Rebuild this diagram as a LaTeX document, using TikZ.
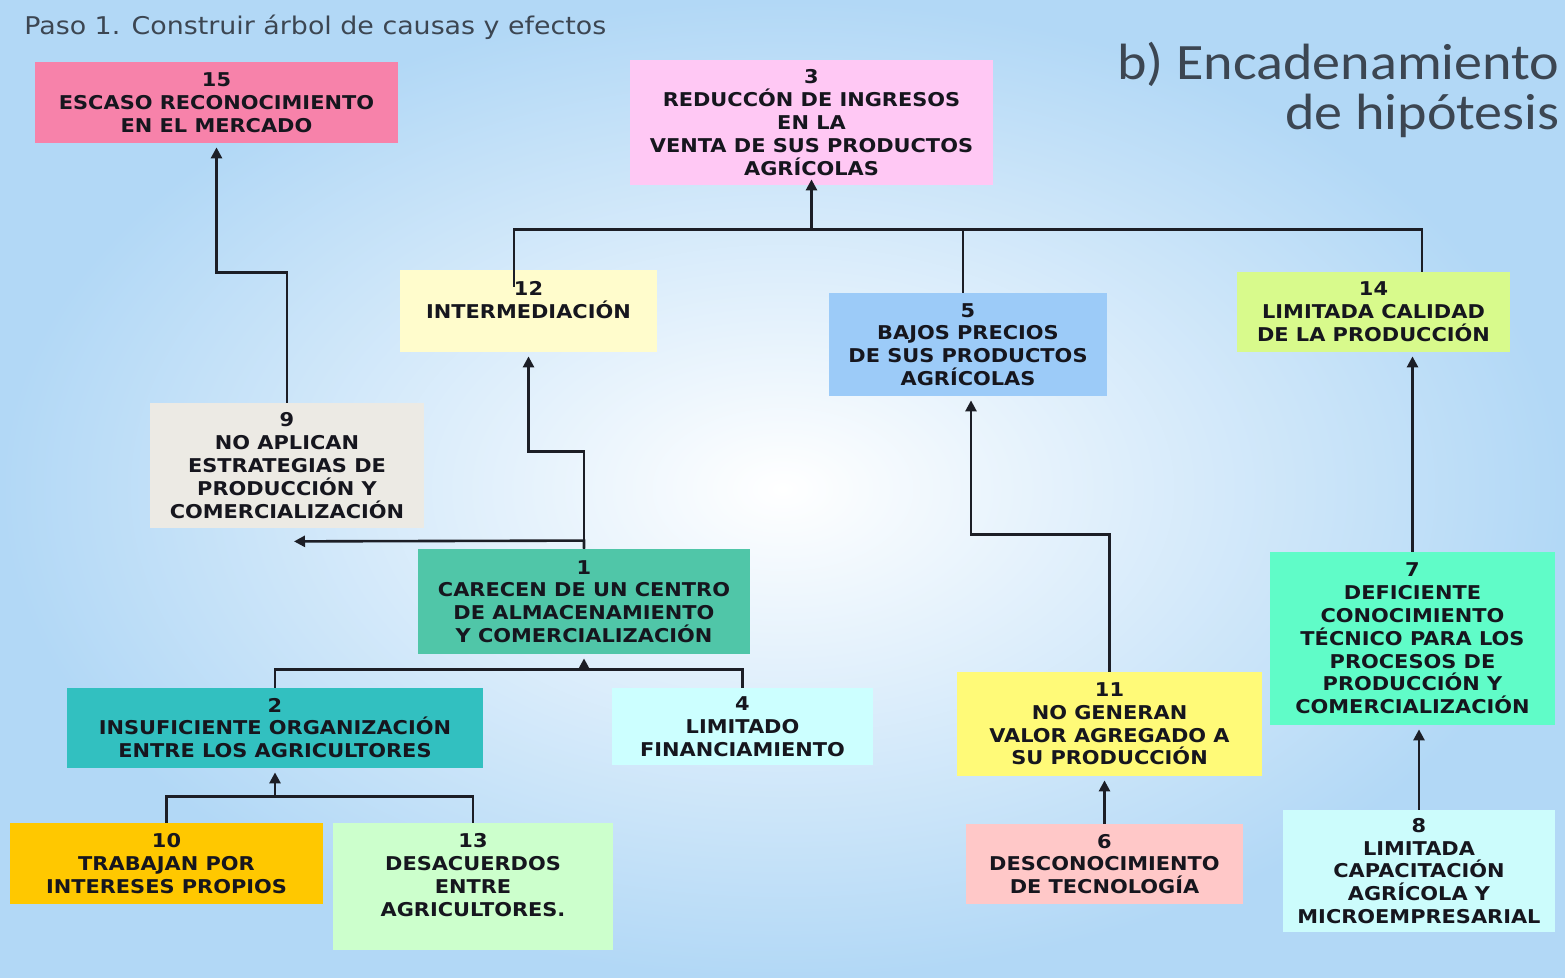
\documentclass[tikz,border=0pt]{standalone}
\usepackage{fontspec}
\setmainfont{DejaVu Sans}
\newfontfamily\boxfont{DejaVu Sans}[FakeStretch=1.1]
\newfontfamily\pasofont{DejaVu Sans}[FakeStretch=1.1]
\newfontfamily\titlefont{Carlito}[FakeStretch=1.1]
\usetikzlibrary{positioning,arrows.meta,calc}

\definecolor{bgblue}{RGB}{178,216,246}
\definecolor{ttl}{RGB}{60,70,82}
\definecolor{txt}{RGB}{22,22,30}
\definecolor{lnc}{RGB}{28,30,38}
\definecolor{c15}{HTML}{F782AA}
\definecolor{c3}{HTML}{FFC8F4}
\definecolor{c12}{HTML}{FFFCCC}
\definecolor{c5}{HTML}{9CCBF8}
\definecolor{c14}{HTML}{D8FA8C}
\definecolor{c9}{HTML}{ECEAE4}
\definecolor{c1}{HTML}{50C6A8}
\definecolor{c2}{HTML}{32C0C0}
\definecolor{c4}{HTML}{CCFFFF}
\definecolor{c10}{HTML}{FFC800}
\definecolor{c13}{HTML}{CCFFCC}
\definecolor{c11}{HTML}{FFFA78}
\definecolor{c6}{HTML}{FFC8C8}
\definecolor{c7}{HTML}{60FCC8}
\definecolor{c8}{HTML}{CCFCFC}

\begin{document}
\begin{tikzpicture}[
    x=0.5pt, y=-0.5pt,
    box/.style={inner sep=0pt, align=center, text=txt,
      font=\boxfont\bfseries\fontsize{9.5}{11.4}\selectfont},
    sz/.style 2 args={minimum width={#1*0.5pt}, minimum height={#2*0.5pt}},
    line/.style={draw=lnc, line width=1.3pt},
    arr/.style={line, -{Triangle[length=5.5pt,width=5.5pt]}, shorten >=2pt},
    bigtitle/.style={anchor=base east, inner sep=0pt, text=ttl, font=\titlefont\fontsize{25.5}{28}\selectfont}
]
% background
\useasboundingbox (0,0) rectangle (1565,978);
\fill[bgblue] (0,0) rectangle (1565,978);
\shade[inner color=white, outer color=bgblue] (0,0) rectangle (1565,978);

% titles
\node[anchor=west, inner sep=0pt, text=ttl, font=\pasofont\fontsize{12.2}{14}\selectfont] (paso) at (24,27)
  {Paso 1. Construir árbol de causas y efectos};
\node[bigtitle] (encad) at (1560,80) {b) Encadenamiento};
\node[bigtitle] (hipo) at (1560,130) {de hipótesis};

% boxes
\node[box, sz={363}{81}, fill=c15] (n15) at (216.5,102.5) {15\\ESCASO RECONOCIMIENTO\\EN EL MERCADO};
\node[box, sz={363}{125}, fill=c3] (n3) at (811.5,122.5) {3\\REDUCCÓN DE INGRESOS\\EN LA\\VENTA DE SUS PRODUCTOS\\AGRÍCOLAS};
\node[box, sz={257}{82}, fill=c12] (n12) at (528.5,311) {12\\INTERMEDIACIÓN\\\mbox{}};
\node[box, sz={278}{103}, fill=c5] (n5) at (968,344.5) {5\\BAJOS PRECIOS\\DE SUS PRODUCTOS\\AGRÍCOLAS};
\node[box, sz={273}{80}, fill=c14] (n14) at (1373.5,312) {14\\LIMITADA CALIDAD\\DE LA PRODUCCIÓN};
\node[box, sz={274}{125}, fill=c9] (n9) at (287,465.5) {9\\NO APLICAN\\ESTRATEGIAS DE\\PRODUCCIÓN Y\\COMERCIALIZACIÓN};
\node[box, sz={332}{105}, fill=c1] (n1) at (584,601.5) {1\\CARECEN DE UN CENTRO\\DE ALMACENAMIENTO\\Y COMERCIALIZACIÓN};
\node[box, sz={416}{80}, fill=c2] (n2) at (275,728) {2\\INSUFICIENTE ORGANIZACIÓN\\ENTRE LOS AGRICULTORES};
\node[box, sz={261}{77}, fill=c4] (n4) at (742.5,726.5) {4\\LIMITADO\\FINANCIAMIENTO};
\node[box, sz={313}{81}, fill=c10] (n10) at (166.5,863.5) {10\\TRABAJAN POR\\INTERESES PROPIOS};
\node[box, sz={280}{127}, fill=c13] (n13) at (473,886.5) {13\\DESACUERDOS\\ENTRE\\AGRICULTORES.\\\mbox{}};
\node[box, sz={305}{104}, fill=c11] (n11) at (1109.5,724) {11\\NO GENERAN\\VALOR AGREGADO A\\SU PRODUCCIÓN};
\node[box, sz={277}{80}, fill=c6] (n6) at (1104.5,864) {6\\DESCONOCIMIENTO\\DE TECNOLOGÍA};
\node[box, sz={285}{173}, fill=c7] (n7) at (1412.5,638.5) {7\\DEFICIENTE\\CONOCIMIENTO\\TÉCNICO PARA LOS\\PROCESOS DE\\PRODUCCIÓN Y\\COMERCIALIZACIÓN};
\node[box, sz={272}{122}, fill=c8] (n8) at (1419,871) {8\\LIMITADA\\CAPACITACIÓN\\AGRÍCOLA Y\\MICROEMPRESARIAL};

% connectors
\draw[arr] (n9.north) -- ++(0,-130) -| (n15.south);
\draw[arr] (n1.north) -- ++(0,-97) -| (n12.south);
\draw[arr] (n1.north) -- ++(0,-8) -- ($(n9.south)+(3,13)$);

\draw[line] ($(n12.north)+(-14.5,17)$) |- ($(n14.north)+(48.5,-42)$) -- ++(0,42);
\draw[line] ($(n5.north)+(-5,0)$) -- ++(0,-63);
\draw[arr] (n3.south |- 0,230) -- ($(n3.south)+(0,-10)$);

\draw[line] (n2.north) -- ++(0,-18) -| (n4.north);
\draw[arr] (n1.south |- 0,670) -- (n1.south);

\draw[line] (n10.north) -- ++(0,-26) -| (n13.north);
\draw[arr] (n2.south |- 0,797) -- (n2.south);

\draw[arr] (n11.north) -- ++(0,-137) -| ($(n5.south)+(3,0)$);
\draw[arr] (n6.north) -- (n6.north |- n11.south);
\draw[arr] (n7.north) -- (n7.north |- n14.south);
\draw[arr] (n8.north) -- (n8.north |- n7.south);
\end{tikzpicture}
\end{document}
